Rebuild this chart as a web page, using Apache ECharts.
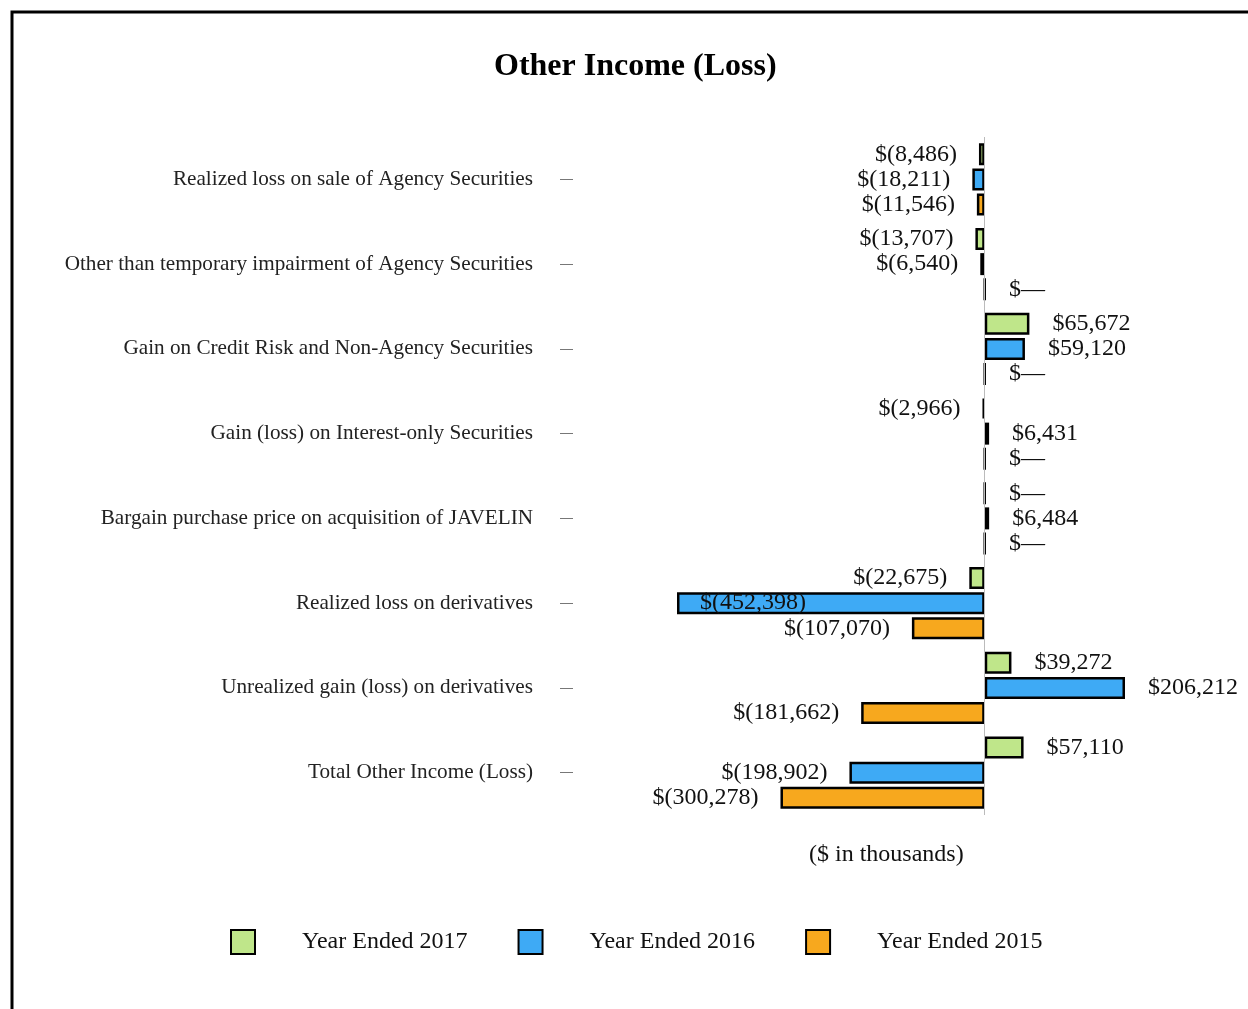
<!DOCTYPE html>
<html>
<head>
<meta charset="utf-8">
<script src="https://cdn.jsdelivr.net/npm/echarts@6/dist/echarts.min.js"></script>
<style>
  html, body { margin: 0; padding: 0; background: #fff; }
  #chart { width: 1248px; height: 1009px; }
</style>
</head>
<body>
<div id="chart"></div>
<script>
  // 其他收益（损失）横向柱状图
  const categories = [
    'Realized loss on sale of Agency Securities',
    'Other than temporary impairment of Agency Securities',
    'Gain on Credit Risk and Non-Agency Securities',
    'Gain (loss) on Interest-only Securities',
    'Bargain purchase price on acquisition of JAVELIN',
    'Realized loss on derivatives',
    'Unrealized gain (loss) on derivatives',
    'Total Other Income (Loss)'
  ]
  const seriesNames = ['Year Ended 2017', 'Year Ended 2016', 'Year Ended 2015']
  const year2017 = [-8486, -13707, 65672, -2966, 0, -22675, 39272, 57110]
  const year2016 = [-18211, -6540, 59120, 6431, 6484, -452398, 206212, -198902]
  const year2015 = [-11546, 0, 0, 0, 0, -107070, -181662, -300278]
  const colors = ['#bfe68a', '#3eaaf5', '#f7a81e']

  const serif = '"Liberation Serif", "DejaVu Serif", serif'

  function fmt(v) {
    if (v === 0) return '$\u2014'
    const s = Math.abs(v).toLocaleString('en-US')
    return v < 0 ? '$(' + s + ')' : '$' + s
  }

  function toData(values) {
    return values.map(v => {
      let label
      if (v <= -400000) {
        label = { position: 'insideLeft', distance: 23 }
      } else if (v < 0) {
        label = { position: 'left', distance: 22 }
      } else {
        label = { position: 'right', distance: 23 }
      }
      return { value: v, label: label }
    })
  }

  const chart = echarts.init(document.getElementById('chart'))
  chart.setOption({
    animation: false,
    color: colors,
    title: [
      {
        text: 'Other Income (Loss)',
        left: 489,
        top: 46,
        textStyle: { fontFamily: serif, fontSize: 32, fontWeight: 'bold', color: '#000' }
      },
      {
        text: '($ in thousands)',
        left: 804,
        top: 838,
        textStyle: { fontFamily: serif, fontSize: 24, fontWeight: 'normal', color: '#111' }
      }
    ],
    legend: {
      left: 225,
      top: 924,
      itemWidth: 24,
      itemHeight: 24,
      itemGap: 50,
      icon: 'rect',
      textStyle: { fontFamily: serif, fontSize: 24, color: '#111', padding: [0, 0, 0, 42] },
      data: seriesNames
    },
    grid: {
      left: 677,
      right: 123,
      top: 137,
      bottom: 194,
      containLabel: false
    },
    xAxis: {
      type: 'value',
      min: -452398,
      max: 206212,
      show: false,
      splitLine: { show: false }
    },
    yAxis: {
      type: 'category',
      inverse: true,
      data: categories,
      position: 'left',
      offset: 104,
      axisLine: { show: false, onZero: false },
      axisTick: { show: true, alignWithLabel: true, length: 13, lineStyle: { color: '#777', width: 1 } },
      axisLabel: { margin: 40, fontFamily: serif, fontSize: 21.2, color: '#222' }
    },
    graphic: [
      {
        type: 'rect',
        shape: { x: 12, y: 12, width: 1300, height: 1100 },
        style: { fill: 'none', stroke: '#000', lineWidth: 3 }
      }
    ],
    series: [year2017, year2016, year2015].map((vals, i) => ({
      name: seriesNames[i],
      type: 'bar',
      barWidth: 22,
      barGap: '14%',
      data: toData(vals),
      itemStyle: { borderColor: '#000', borderWidth: 2.5 },
      label: {
        show: true,
        fontFamily: serif,
        fontSize: 24,
        color: '#111',
        formatter: p => fmt(p.value)
      },
      markLine: i === 0 ? {
        silent: true,
        symbol: 'none',
        label: { show: false },
        lineStyle: { color: '#bbb', type: 'solid', width: 1 },
        data: [{ xAxis: 0 }]
      } : undefined
    }))
  })
</script>
</body>
</html>
